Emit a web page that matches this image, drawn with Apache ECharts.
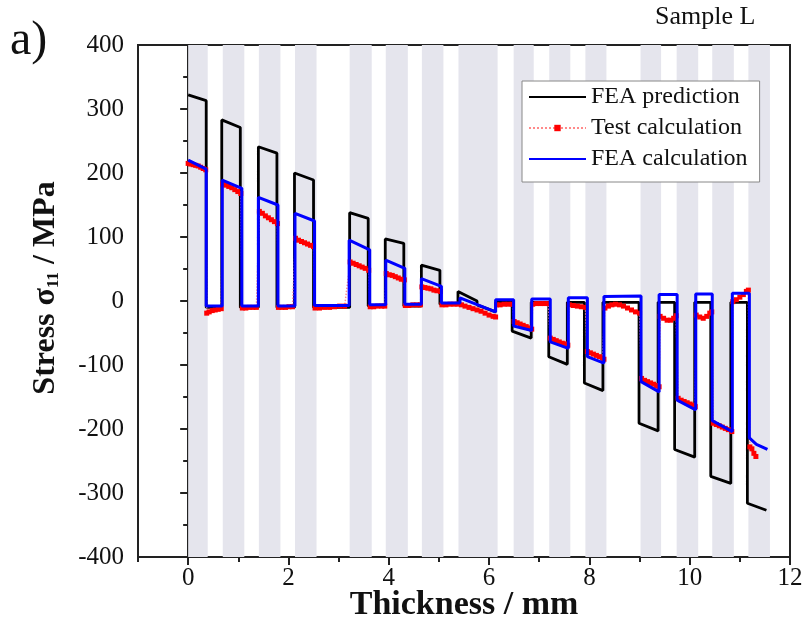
<!DOCTYPE html>
<html>
<head>
<meta charset="utf-8">
<script src="https://cdn.jsdelivr.net/npm/echarts@6/dist/echarts.min.js"></script>
<style>html,body{margin:0;padding:0;background:#fff}#c{width:805px;height:629px}</style>
</head>
<body>
<div id="c"></div>
<script>
// Gray layer bands (mm)
const bandStart = [0, 0.69, 1.41, 2.13, 3.22, 3.94, 4.66, 5.39, 6.49, 7.20, 7.92, 9.02, 9.74, 10.45, 11.17];
const bandEnd   = [0.39, 1.12, 1.84, 2.56, 3.66, 4.38, 5.09, 6.17, 6.89, 7.62, 8.34, 9.43, 10.17, 10.88, 11.60];

// FEA prediction [thickness mm, stress MPa]
const feaPrediction = [
  [0,322],[0.36,313],[0.36,-10],[0.67,-10],[0.67,283],[1.04,271],[1.04,-10],[1.40,-10],
  [1.40,241],[1.77,231],[1.77,-10],[2.12,-10],[2.12,200],[2.50,189],[2.50,-10],[3.22,-10],
  [3.22,138],[3.59,129],[3.59,-8],[3.93,-8],[3.93,97],[4.30,90],[4.30,-8],[4.65,-8],
  [4.65,56],[5.02,48],[5.02,-5],[5.38,-5],[5.38,15],[5.76,0],[5.76,-6],[6.13,-17],
  [6.13,-2],[6.46,-2],[6.46,-47],[6.84,-58],[6.84,-2],[7.19,-2],[7.19,-87],[7.56,-99],
  [7.56,-2],[7.90,-2],[7.90,-128],[8.27,-140],[8.27,-2],[8.99,-2],[8.99,-191],[9.37,-203],
  [9.37,-2],[9.70,-2],[9.70,-232],[10.10,-244],[10.10,-2],[10.42,-2],[10.42,-274],[10.82,-285],
  [10.82,-2],[11.15,-2],[11.15,-316],[11.53,-327]
];

// Test calculation
const testCalculation = [
  [0,215],[0.05,214],[0.1,213],[0.15,212],[0.2,211],[0.25,209],[0.3,207],[0.35,205],
  [0.37,-19],[0.42,-17],[0.48,-15],[0.54,-14],[0.6,-13],[0.66,-12],
  [0.69,183],[0.75,181],[0.81,179],[0.87,177],[0.93,174],[0.99,171],[1.05,168],
  [1.08,-11],[1.15,-11],[1.22,-10],[1.29,-10],[1.36,-10],
  [1.42,140],[1.48,137],[1.54,133],[1.6,130],[1.66,127],[1.72,124],[1.78,121],
  [1.8,-10],[1.87,-10],[1.94,-10],[2.01,-9],[2.08,-9],
  [2.14,98],[2.2,95],[2.26,93],[2.32,91],[2.38,89],[2.44,87],[2.5,85],
  [2.53,-11],[2.62,-11],[2.72,-10],[2.82,-10],[2.92,-9],[3.02,-8],[3.12,-8],
  [3.23,61],[3.29,59],[3.35,57],[3.41,55],[3.47,53],[3.53,51],[3.6,48],
  [3.63,-9],[3.7,-9],[3.78,-8],[3.86,-8],[3.92,-8],
  [3.95,43],[4.01,41],[4.07,40],[4.13,38],[4.19,36],[4.25,34],[4.31,33],
  [4.33,-7],[4.4,-7],[4.48,-6],[4.56,-6],[4.63,-6],
  [4.66,22],[4.72,21],[4.78,20],[4.84,19],[4.9,17],[4.96,16],[5.03,15],
  [5.06,-6],[5.14,-6],[5.22,-5],[5.3,-5],[5.38,-5],[5.45,-6],[5.52,-8],[5.6,-10],[5.68,-12],
  [5.76,-14],[5.84,-16],[5.92,-19],[6.0,-22],[6.08,-24],[6.13,-25],
  [6.15,-6],[6.22,-6],[6.3,-5],[6.38,-5],[6.46,-5],
  [6.5,-32],[6.56,-34],[6.62,-36],[6.68,-38],[6.74,-40],[6.8,-42],[6.85,-44],
  [6.87,-5],[6.95,-4],[7.03,-4],[7.11,-4],[7.18,-4],
  [7.22,-58],[7.28,-60],[7.34,-62],[7.4,-64],[7.46,-66],[7.52,-67],[7.57,-69],
  [7.6,-6],[7.68,-7],[7.76,-8],[7.84,-9],[7.92,-10],
  [7.96,-79],[8.02,-81],[8.08,-83],[8.14,-85],[8.2,-87],[8.26,-89],[8.29,-91],
  [8.31,-11],[8.38,-8],[8.45,-6],[8.52,-5],[8.6,-6],[8.68,-8],[8.76,-11],[8.84,-14],[8.92,-17],[9.0,-19],
  [9.04,-121],[9.1,-124],[9.16,-126],[9.22,-128],[9.28,-130],[9.34,-132],[9.39,-134],
  [9.41,-24],[9.48,-27],[9.55,-30],[9.62,-30],[9.68,-27],[9.73,-23],
  [9.77,-152],[9.83,-155],[9.89,-157],[9.95,-159],[10.01,-161],[10.07,-163],[10.11,-165],
  [10.13,-22],[10.2,-25],[10.27,-27],[10.34,-24],[10.4,-19],[10.44,-17],
  [10.47,-191],[10.53,-193],[10.59,-195],[10.65,-197],[10.71,-199],[10.77,-201],[10.84,-204],
  [10.86,-1],[10.93,2],[11.0,6],[11.07,10],[11.13,15],[11.17,17],
  [11.2,-228],[11.24,-231],[11.28,-238],[11.32,-243]
];

// FEA calculation
const feaCalculation = [
  [0,220],[0.36,206],[0.36,-8],[0.68,-8],[0.68,189],[1.07,176],[1.07,-8],[1.40,-8],
  [1.40,162],[1.79,150],[1.79,-8],[2.13,-8],[2.13,137],[2.52,125],[2.52,-7],[3.21,-7],
  [3.21,95],[3.62,80],[3.62,-6],[3.94,-6],[3.94,64],[4.32,51],[4.32,-5],[4.65,-5],
  [4.65,35],[5.05,23],[5.05,-3],[5.42,-3],[5.42,5],[6.13,-17],[6.13,2],[6.49,2],
  [6.49,-39],[6.85,-46],[6.85,3],[7.22,3],[7.22,-64],[7.58,-74],[7.58,5],[7.96,5],
  [7.96,-87],[8.29,-97],[8.29,7],[9.03,8],[9.03,-126],[9.39,-142],[9.39,10],[9.75,10],
  [9.75,-155],[10.12,-170],[10.12,11],[10.45,11],[10.45,-187],[10.85,-204],[10.85,12],[11.19,12],
  [11.19,-214],[11.33,-224],[11.55,-232]
];

const xMajorTicks = [0, 2, 4, 6, 8, 10, 12];
const xMinorTicks = [-1, 1, 3, 5, 7, 9, 11];

const SERIF = '"Liberation Serif","Times New Roman",serif';
const chart = echarts.init(document.getElementById('c'), null, {renderer: 'canvas'});
const bands = bandStart.map((s, i) => [{xAxis: s}, {xAxis: bandEnd[i]}]);

chart.setOption({
  animation: false,
  backgroundColor: '#fff',
  grid: {left: 138, right: 15, top: 45, bottom: 72, outerBoundsMode: 'none', containLabel: false,
         show: true, borderColor: '#222', borderWidth: 2, backgroundColor: 'transparent'},
  xAxis: [{
    type: 'value', min: -1, max: 12, position: 'bottom',
    axisLine: {onZero: false, lineStyle: {color: '#222', width: 2}},
    axisTick: {customValues: xMajorTicks, length: 8, lineStyle: {color: '#222', width: 2}},
    axisLabel: {customValues: xMajorTicks, fontFamily: SERIF, fontSize: 25, color: '#111', margin: 9},
    splitLine: {show: false},
    name: 'Thickness / mm', nameLocation: 'middle', nameGap: 31, nameMoveOverlap: false,
    nameTextStyle: {fontFamily: SERIF, fontSize: 34, fontWeight: 'bold', color: '#111'}
  }, {
    type: 'value', min: -1, max: 12, position: 'bottom',
    axisLine: {show: false, onZero: false},
    axisTick: {customValues: xMinorTicks, length: 5, lineStyle: {color: '#222', width: 2}},
    axisLabel: {show: false},
    splitLine: {show: false}
  }],
  yAxis: {
    type: 'value', min: -400, max: 400, interval: 100,
    axisLine: {show: true, lineStyle: {color: '#222', width: 2}},
    axisTick: {show: true, length: 8, lineStyle: {color: '#222', width: 2}},
    minorTick: {show: true, splitNumber: 2, length: 5, lineStyle: {color: '#222', width: 2}},
    axisLabel: {fontFamily: SERIF, fontSize: 25, color: '#111', margin: 14},
    splitLine: {show: false},
    name: '{a|Stress σ}{s|11}{a| / MPa}', nameLocation: 'middle', nameGap: 76, nameRotate: 90,
    nameTextStyle: {
      padding: [0, 0, 0, 26],
      rich: {
        a: {fontFamily: SERIF, fontSize: 32, fontWeight: 'bold', color: '#111'},
        s: {fontFamily: SERIF, fontSize: 17, fontWeight: 'bold', color: '#111', padding: [15, 0, 0, 0]}
      }
    }
  },
  legend: {
    orient: 'vertical', left: 522, top: 81,
    backgroundColor: '#fff', borderColor: '#888', borderWidth: 1,
    padding: [4, 12, 11, 6], itemGap: 7, itemWidth: 57, itemHeight: 8,
    textStyle: {fontFamily: SERIF, fontSize: 24, color: '#111'},
    data: [
      {name: 'FEA prediction', itemStyle: {opacity: 0}},
      {name: 'Test calculation'},
      {name: 'FEA calculation', itemStyle: {opacity: 0}}
    ]
  },
  graphic: [
    {type: 'text', left: 10, top: 17, style: {text: 'a)', font: '48px "Liberation Serif"', fill: '#111'}},
    {type: 'text', left: 655, top: 4, style: {text: 'Sample L', font: '26px "Liberation Serif"', fill: '#111'}}
  ],
  series: [{
    type: 'line', data: [], z: 1, silent: true,
    markArea: {silent: true, itemStyle: {color: '#E5E5ED'}, data: bands}
  }, {
    name: 'FEA prediction', type: 'line', data: feaPrediction, z: 3,
    symbol: 'none', lineStyle: {color: '#000', width: 2.8}, itemStyle: {color: '#000'}
  }, {
    name: 'Test calculation', type: 'line', data: testCalculation, z: 4,
    symbol: 'rect', symbolSize: 5, showSymbol: true,
    lineStyle: {color: '#ff8a8a', width: 1.5, type: 'dotted'}, itemStyle: {color: '#ff0000'}
  }, {
    name: 'FEA calculation', type: 'line', data: feaCalculation, z: 5,
    symbol: 'none', lineStyle: {color: '#0000ff', width: 3}, itemStyle: {color: '#0000ff'}
  }]
});
</script>
</body>
</html>
